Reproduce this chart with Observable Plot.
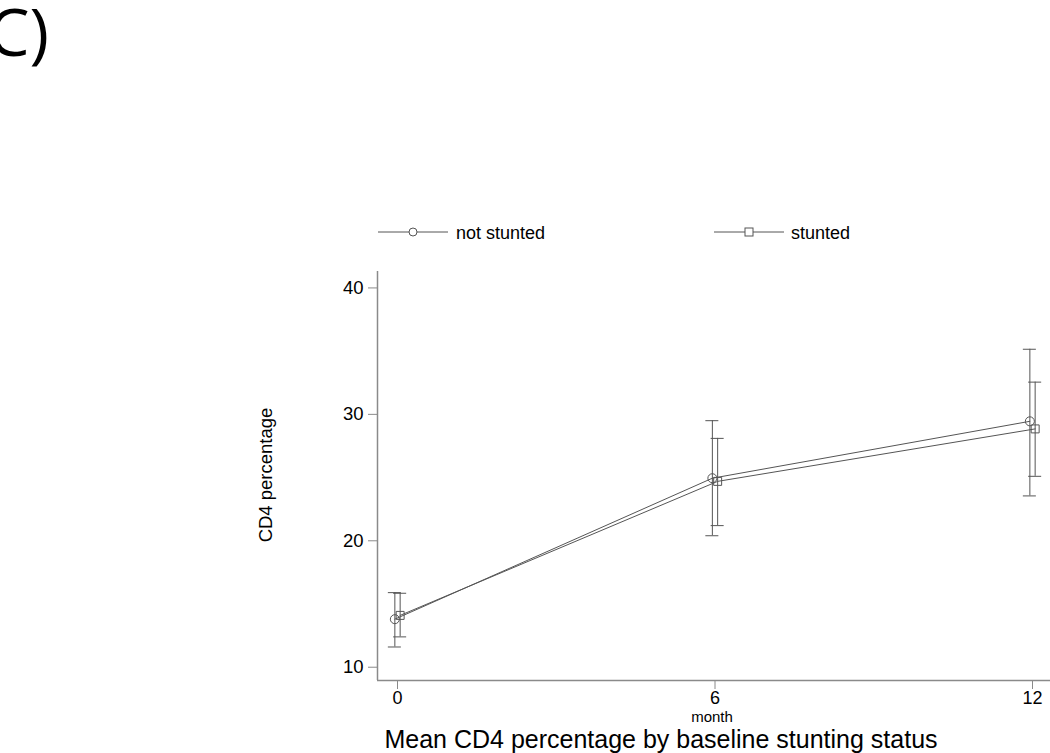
<!DOCTYPE html>
<html>
<head>
<meta charset="utf-8">
<script src="https://cdn.jsdelivr.net/npm/d3@7"></script>
<script src="https://cdn.jsdelivr.net/npm/@observablehq/plot@0.6"></script>
<style>
  html, body { margin: 0; padding: 0; background: #fff; }
  #wrap { position: relative; width: 1050px; height: 753px; overflow: hidden; }
  #wrap svg { position: absolute; left: 0; top: 0; }
</style>
</head>
<body>
<div id="wrap"></div>
<script>
// Data
const months = [0, 6, 12];
const groups = ["not stunted", "stunted"];
const notStuntedMean = [13.8, 24.95, 29.45];
const notStuntedLow  = [11.6, 20.4, 23.55];
const notStuntedHigh = [15.9, 29.5, 35.15];
const stuntedMean = [14.1, 24.7, 28.85];
const stuntedLow  = [12.4, 21.2, 25.1];
const stuntedHigh = [15.85, 28.1, 32.55];
const yTicks = [10, 20, 30, 40];
const xTicks = [0, 6, 12];

const offsets = {"not stunted": -0.05, "stunted": 0.05};
const capHalf = 0.123; // in months
const rows = [];
months.forEach((m, i) => {
  rows.push({group: groups[0], month: m, mean: notStuntedMean[i], low: notStuntedLow[i], high: notStuntedHigh[i]});
  rows.push({group: groups[1], month: m, mean: stuntedMean[i], low: stuntedLow[i], high: stuntedHigh[i]});
});
rows.forEach(d => d.xm = d.month + offsets[d.group]);

const lineColor = "#555";
const axisColor = "#8a8a8a";
const font = "'Liberation Sans', Arial, sans-serif";

const chart = Plot.plot({
  width: 1050,
  height: 753,
  marginLeft: 377,
  marginRight: 0,
  marginTop: 271,
  marginBottom: 73,
  style: {fontFamily: font, fontSize: "18px", color: "#000", background: "transparent"},
  x: {type: "linear", domain: [-0.378, 12.34], label: null},
  y: {type: "linear", domain: [8.95, 41.3], label: null},
  marks: [
    Plot.ruleX([-0.378], {stroke: axisColor, strokeWidth: 1.5}),
    Plot.ruleY([8.95], {stroke: axisColor, strokeWidth: 1.5}),
    Plot.axisX({ticks: xTicks, tickSize: 9, tickPadding: 2, stroke: axisColor, fill: "#000", fontSize: 18, label: null, tickFormat: d => String(d)}),
    Plot.axisY({ticks: yTicks, tickSize: 9, tickPadding: 5, stroke: axisColor, fill: "#000", fontSize: 18.5, label: null, tickFormat: d => String(d)}),
    Plot.ruleX(rows, {x: "xm", y1: "low", y2: "high", stroke: lineColor, strokeWidth: 1}),
    Plot.ruleY(rows, {y: "low", x1: d => d.xm - capHalf, x2: d => d.xm + capHalf, stroke: lineColor, strokeWidth: 1}),
    Plot.ruleY(rows, {y: "high", x1: d => d.xm - capHalf, x2: d => d.xm + capHalf, stroke: lineColor, strokeWidth: 1}),
    Plot.line(rows, {x: "xm", y: "mean", z: "group", stroke: lineColor, strokeWidth: 1}),
    Plot.dot(rows.filter(d => d.group === groups[0]), {x: "xm", y: "mean", r: 4.5, symbol: "circle", stroke: lineColor, strokeWidth: 1, fill: "none"}),
    Plot.dot(rows.filter(d => d.group === groups[1]), {x: "xm", y: "mean", r: 4.5, symbol: "square", stroke: lineColor, strokeWidth: 1, fill: "none"})
  ]
});
const wrap = document.getElementById("wrap");
wrap.appendChild(chart);

// Overlay: panel label, legend, axis titles, caption
const ov = document.createElementNS("http://www.w3.org/2000/svg", "svg");
ov.setAttribute("width", 1050);
ov.setAttribute("height", 753);
ov.innerHTML = `
  <text x="-12" y="56" font-family="'Open Sans', 'Noto Sans', sans-serif" font-size="66" fill="#000">C)</text>
  <line x1="378" x2="448" y1="232" y2="232" stroke="${lineColor}" stroke-width="1"/>
  <circle cx="413" cy="232" r="4" fill="#fff" stroke="${lineColor}" stroke-width="1"/>
  <line x1="714" x2="784" y1="232" y2="232" stroke="${lineColor}" stroke-width="1"/>
  <rect x="745" y="228" width="8" height="8" fill="#fff" stroke="${lineColor}" stroke-width="1"/>
  <text x="456" y="238.5" font-family="${font}" font-size="18" fill="#000">${groups[0]}</text>
  <text x="791" y="238.5" font-family="${font}" font-size="18" fill="#000">${groups[1]}</text>
  <text transform="translate(272,475) rotate(-90)" text-anchor="middle" font-family="${font}" font-size="18.5" fill="#000">CD4 percentage</text>
  <text x="712" y="722" text-anchor="middle" font-family="${font}" font-size="15" fill="#000">month</text>
  <text x="661" y="747.5" text-anchor="middle" font-family="${font}" font-size="25" fill="#000">Mean CD4 percentage by baseline stunting status</text>
`;
wrap.appendChild(ov);
</script>
</body>
</html>
